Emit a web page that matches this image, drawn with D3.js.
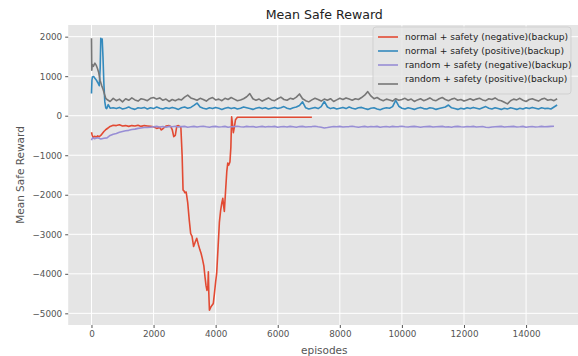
<!DOCTYPE html>
<html>
<head>
<meta charset="utf-8">
<script src="https://cdn.jsdelivr.net/npm/d3@7"></script>
<style>
  body { margin: 0; background: #fff; }
  svg text { font-family: "DejaVu Sans", sans-serif; }
</style>
</head>
<body>
<div class="chart-wrapper"></div>
<script>
// values, episode / mean safe reward

// normal + safety (negative)(backup)
const redEpisodes = [0,20,50,100,150,200,250,300,350,400,450,500,550,600,700,800,900,1000,1100,1200,1300,1400,1500,1600,1700,1800,1900,2000,2100,2200,2250,2300,2400,2500,2550,2600,2650,2700,2750,2800,2850,2880,2920,2950,2980,3010,3050,3100,3150,3195,3240,3290,3340,3390,3440,3495,3530,3570,3620,3656,3690,3720,3750,3765,3780,3800,3840,3880,3925,3960,4000,4033,4080,4120,4160,4200,4230,4260,4280,4320,4360,4390,4420,4460,4490,4515,4540,4570,4600,4640,4700,7100]
const redValues = [-420,-480,-560,-520,-540,-510,-530,-500,-450,-400,-360,-330,-300,-270,-240,-250,-230,-260,-250,-270,-250,-260,-240,-270,-250,-260,-270,-280,-320,-300,-360,-330,-260,-250,-270,-350,-530,-500,-260,-250,-270,-300,-1000,-1880,-1900,-1950,-1930,-2200,-2640,-2980,-3050,-3310,-3200,-3100,-3250,-3400,-3480,-3610,-3800,-4075,-4300,-4420,-4300,-3950,-4500,-4920,-4850,-4800,-4750,-4500,-4200,-3990,-3300,-2700,-2400,-2200,-2090,-2300,-2420,-1900,-1400,-1200,-1250,-1170,-800,-30,-200,-430,-300,-100,-40,-40]

// normal + safety (positive)(backup)
const blueStartEpisodes = [0,15,30,70,110,160,200,250,280,300,320,345,370,400,430,460,490,540,600]
const blueStartValues = [560,900,980,990,950,900,840,760,1200,1960,1900,1940,1500,800,350,200,180,280,190]
// from episode 700, every 100 episodes
const blueValues = [200,180,210,170,190,220,180,160,200,190,210,170,200,180,220,190,170,200,180,210,190,160,200,220,190,210,260,320,220,190,170,200,180,210,190,160,190,210,180,200,170,190,220,200,180,160,190,210,180,200,170,190,210,180,200,230,190,170,200,220,260,350,200,170,190,210,180,230,360,220,180,200,170,190,210,180,220,190,170,200,210,180,160,190,200,170,150,180,200,190,230,390,240,190,170,200,180,160,190,210,180,170,200,190,160,180,200,220,270,200,180,160,190,170,200,180,210,190,170,200,230,190,170,200,180,160,190,170,200,180,160,190,170,200,180,210,190,170,200,180,190,170,220,270]

// random + safety (negative)(backup)
const purpleStartEpisodes = [0,30,100,200,300,400,500,600,700,800,900,1000,1100,1200,1300,1400,1500,1600,1700,1800,1900]
const purpleStartValues = [-620,-560,-580,-560,-590,-570,-560,-500,-470,-450,-420,-400,-380,-370,-350,-340,-320,-310,-300,-300,-290]
// from episode 2000, every 100 episodes
const purpleValues = [-280,-270,-285,-275,-290,-270,-280,-265,-285,-275,-270,-290,-280,-270,-285,-275,-265,-280,-290,-275,-270,-285,-280,-270,-290,-280,-275,-265,-280,-285,-270,-280,-275,-290,-280,-270,-285,-275,-280,-270,-290,-280,-275,-285,-270,-280,-290,-275,-270,-285,-280,-275,-265,-280,-290,-310,-300,-285,-275,-280,-270,-285,-280,-275,-265,-280,-290,-280,-270,-285,-275,-280,-270,-290,-280,-275,-285,-270,-280,-275,-265,-280,-285,-275,-270,-280,-290,-280,-275,-270,-285,-280,-275,-270,-285,-280,-290,-275,-270,-280,-285,-275,-280,-270,-285,-280,-275,-290,-300,-285,-280,-275,-270,-285,-280,-275,-270,-285,-280,-270,-290,-280,-275,-285,-280,-270,-280,-275,-270,-265]

// random + safety (positive)(backup)
const grayStartEpisodes = [0,10,25,60,110,150,190,230,275,330,380,420,460,500]
const grayStartValues = [1960,1150,1300,1250,1330,1280,1200,1100,900,760,650,540,440,410]
// from episode 600, every 100 episodes
const grayValues = [360,440,380,420,350,430,390,450,400,370,430,410,380,440,460,420,450,390,420,360,410,380,420,400,470,520,450,420,390,440,410,370,430,460,400,420,380,440,410,460,420,380,400,430,480,560,430,390,420,370,410,450,400,380,430,470,410,390,440,420,470,550,430,380,350,400,440,410,370,420,390,430,360,400,440,410,450,420,390,430,410,460,520,610,500,430,460,410,380,420,400,370,430,390,410,440,390,420,360,400,430,380,410,450,400,380,430,460,410,380,420,440,390,410,370,400,430,390,420,440,400,380,430,410,450,400,380,340,300,380,420,400,440,390,360,410,430,400,370,420,440,390,410,380,430]

const seriesNames = ['normal + safety (negative)(backup)', 'normal + safety (positive)(backup)', 'random + safety (negative)(backup)', 'random + safety (positive)(backup)']
const seriesColors = ['#E24A33', '#348ABD', '#988ED5', '#777777']
const xTicks = [0, 2000, 4000, 6000, 8000, 10000, 12000, 14000]
const yTicks = [-5000, -4000, -3000, -2000, -1000, 0, 1000, 2000]

function pairs(eps, vals) {
	return eps.map((e, i) => [e, vals[i]])
}
function stepped(start, vals) {
	return vals.map((v, i) => [start + i * 100, v])
}

const series = [
	pairs(redEpisodes, redValues),
	pairs(blueStartEpisodes, blueStartValues).concat(stepped(700, blueValues)),
	pairs(purpleStartEpisodes, purpleStartValues).concat(stepped(2000, purpleValues)),
	pairs(grayStartEpisodes, grayStartValues).concat(stepped(600, grayValues))
]

let width = 578
let height = 356

let plot = {left: 68.2, top: 25, width: 512.2, height: 300}

let svg = d3.select('.chart-wrapper').append('svg')
.attr('width', width)
.attr('height', height)

let x = d3.scaleLinear()
.domain([-750, 15750])
.range([plot.left, plot.left + plot.width])

let y = d3.scaleLinear()
.domain([-5295, 2295])
.range([plot.top + plot.height, plot.top])

// background
svg.append('rect')
.attr('x', plot.left)
.attr('y', plot.top)
.attr('width', plot.width)
.attr('height', plot.height)
.attr('fill', '#E5E5E5')

let grid = svg.append('g')

grid.selectAll('.vgrid')
.data(xTicks)
.enter()
.append('line')
.attr('x1', d => x(d))
.attr('x2', d => x(d))
.attr('y1', plot.top)
.attr('y2', plot.top + plot.height)
.attr('stroke', '#fff')
.attr('stroke-width', 1)

grid.selectAll('.hgrid')
.data(yTicks)
.enter()
.append('line')
.attr('x1', plot.left)
.attr('x2', plot.left + plot.width)
.attr('y1', d => y(d))
.attr('y2', d => y(d))
.attr('stroke', '#fff')
.attr('stroke-width', 1)

// axes
let xAxis = svg.append('g')
.attr('transform', 'translate(0,' + (plot.top + plot.height) + ')')
.call(d3.axisBottom(x).tickValues(xTicks).tickFormat(d3.format('d')).tickSize(3).tickPadding(3))

let yAxis = svg.append('g')
.attr('transform', 'translate(' + plot.left + ',0)')
.call(d3.axisLeft(y).tickValues(yTicks).tickFormat(d3.format('d')).tickSize(3).tickPadding(3))

svg.selectAll('.domain').remove()
svg.selectAll('.tick line').attr('stroke', '#555')
svg.selectAll('.tick text')
.attr('fill', '#555')
.style('font-size', '8.8px')
.style('font-family', '"DejaVu Sans", sans-serif')

// lines
let line = d3.line()
.x(d => x(d[0]))
.y(d => y(d[1]))

let linesGroup = svg.append('g')

series.forEach((s, i) => {
	linesGroup.append('path')
	.datum(s)
	.attr('d', line)
	.attr('fill', 'none')
	.attr('stroke', seriesColors[i])
	.attr('stroke-width', 1.6)
	.attr('stroke-linejoin', 'round')
})

// title and labels
svg.append('text')
.attr('x', plot.left + plot.width / 2)
.attr('y', 19)
.attr('text-anchor', 'middle')
.style('font-size', '12.6px')
.attr('fill', '#222')
.text('Mean Safe Reward')

svg.append('text')
.attr('x', plot.left + plot.width / 2)
.attr('y', 354)
.attr('text-anchor', 'middle')
.style('font-size', '10.5px')
.attr('fill', '#555')
.text('episodes')

svg.append('text')
.attr('transform', 'translate(24,' + (plot.top + plot.height / 2) + ') rotate(-90)')
.attr('text-anchor', 'middle')
.style('font-size', '10.5px')
.attr('fill', '#555')
.text('Mean Safe Reward')

// legend
let legend = svg.append('g')

legend.append('rect')
.attr('x', 373)
.attr('y', 27)
.attr('width', 198)
.attr('height', 67)
.attr('rx', 3)
.attr('fill', '#E5E5E5')
.attr('fill-opacity', 0.8)
.attr('stroke', '#CCCCCC')
.attr('stroke-opacity', 0.8)

seriesNames.forEach((name, i) => {
	let rowY = 37 + i * 14
	// the last handle sits a bit lower in the reference
	let handleY = i === 3 ? rowY + 5 : rowY
	legend.append('line')
	.attr('x1', 378)
	.attr('x2', 398)
	.attr('y1', handleY)
	.attr('y2', handleY)
	.attr('stroke', seriesColors[i])
	.attr('stroke-width', 1.6)

	legend.append('text')
	.attr('x', 405)
	.attr('y', rowY + 3.3)
	.style('font-size', '9.1px')
	.attr('fill', '#222')
	.text(name)
})
</script>
</body>
</html>
